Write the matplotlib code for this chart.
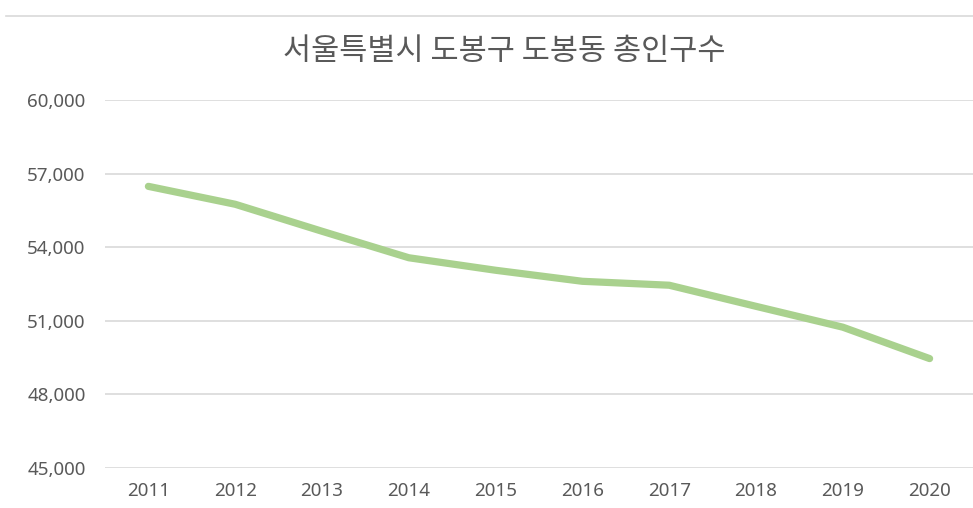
import matplotlib
matplotlib.use('Agg')
import matplotlib.pyplot as plt
from matplotlib.lines import Line2D
from matplotlib.ticker import FuncFormatter

plt.rcParams['font.family'] = ['Noto Sans CJK KR', 'DejaVu Sans']

years = ['2011', '2012', '2013', '2014', '2015', '2016', '2017', '2018', '2019', '2020']
population = [56480, 55750, 54650, 53570, 53060, 52610, 52450, 51590, 50740, 49460]
yticks = [45000, 48000, 51000, 54000, 57000, 60000]

GR = '#a9d18e'; TX = '#595959'; GRID = '#d9d9d9'

fig = plt.figure(figsize=(9.73, 5.08), dpi=100)
fig.patch.set_facecolor('white')
ax = fig.add_axes([105/973, 1-468/508, 1-105/973, (468-100)/508])

ax.plot(range(len(years)), population, color=GR, lw=5.2, solid_capstyle='round', solid_joinstyle='round')
ax.set_xlim(-0.5, len(years)-0.5)
ax.set_ylim(45000, 60000)
ax.set_yticks(yticks)
ax.yaxis.set_major_formatter(FuncFormatter(lambda v, p: f'{v:,.0f}'))
ax.set_xticks(range(len(years)))
ax.set_xticklabels(years)
ax.grid(axis='y', color=GRID, lw=1.2)
ax.set_axisbelow(True)
for s in ax.spines.values(): s.set_visible(False)
ax.tick_params(length=0, labelsize=13.5, colors=TX)
ax.tick_params(axis='y', pad=14)
ax.tick_params(axis='x', pad=10)
for l in ax.get_xticklabels() + ax.get_yticklabels():
    l.set_family(['Noto Sans', 'DejaVu Sans'])
    l.set_fontweight('light')

fig.text(0.518, 1-52/508, '서울특별시 도봉구 도봉동 총인구수', ha='center', va='center',
         fontsize=22, color=TX, fontweight='light')
fig.add_artist(Line2D([6/973, 1], [1-16/508, 1-16/508], color=GRID, lw=1.2, transform=fig.transFigure))

plt.savefig('out.png', dpi=100, facecolor='white')
